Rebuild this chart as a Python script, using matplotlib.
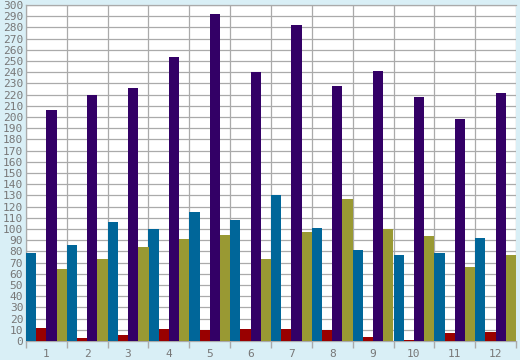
import numpy as np
import matplotlib
matplotlib.use("Agg")
from matplotlib import pyplot as plt

categories = ["1", "2", "3", "4", "5", "6", "7", "8", "9", "10", "11", "12"]
blue_vals = [79, 86, 106, 100, 115, 108, 130, 101, 81, 77, 79, 92]
red_vals = [12, 3, 5, 11, 10, 11, 11, 10, 4, 1, 7, 8]
purple_vals = [206, 220, 226, 254, 292, 240, 282, 228, 241, 218, 198, 221]
olive_vals = [64, 73, 84, 91, 95, 73, 97, 127, 100, 94, 66, 77]

series = [blue_vals, red_vals, purple_vals, olive_vals]
colors = ["#006699", "#990000", "#330066", "#999933"]

bg = "#d9eff6"
grid_col = "#aaaaaa"
txt_col = "#777777"

fig = plt.figure(figsize=(5.2, 3.6), dpi=100, facecolor=bg)
ax = fig.add_axes([26 / 520, 19 / 360, 490 / 520, 336 / 360])
ax.set_facecolor("white")

x = np.arange(len(categories))
w = 0.25
for i, (vals, c) in enumerate(zip(series, colors)):
    ax.bar(x - 0.375 + i * w, vals, width=w, color=c, linewidth=0, zorder=3)

ax.set_xlim(-0.5, len(categories) - 0.5)
ax.set_ylim(0, 300)

ax.set_yticks(np.arange(0, 301, 10))
ax.set_xticks(np.arange(-0.5, len(categories), 1.0))
ax.set_xticklabels([])
ax.set_xticks(x, minor=True)
ax.set_xticklabels(categories, minor=True)

ax.tick_params(axis="x", which="major", length=5, color=grid_col, width=1.0)
ax.tick_params(axis="x", which="minor", length=0, pad=6, labelsize=8, labelcolor=txt_col)
ax.tick_params(axis="y", length=0, pad=2, labelsize=8, labelcolor=txt_col)
for lab in ax.get_xticklabels(minor=True) + ax.get_yticklabels():
    lab.set_family("DejaVu Sans Mono")

ax.grid(True, which="major", color=grid_col, linewidth=0.9, zorder=0)
ax.set_axisbelow(True)
for s in ax.spines.values():
    s.set_color(grid_col)
    s.set_linewidth(0.9)
ax.spines["right"].set_visible(False)

plt.savefig("out.png", dpi=100, facecolor=bg)
plt.close()
